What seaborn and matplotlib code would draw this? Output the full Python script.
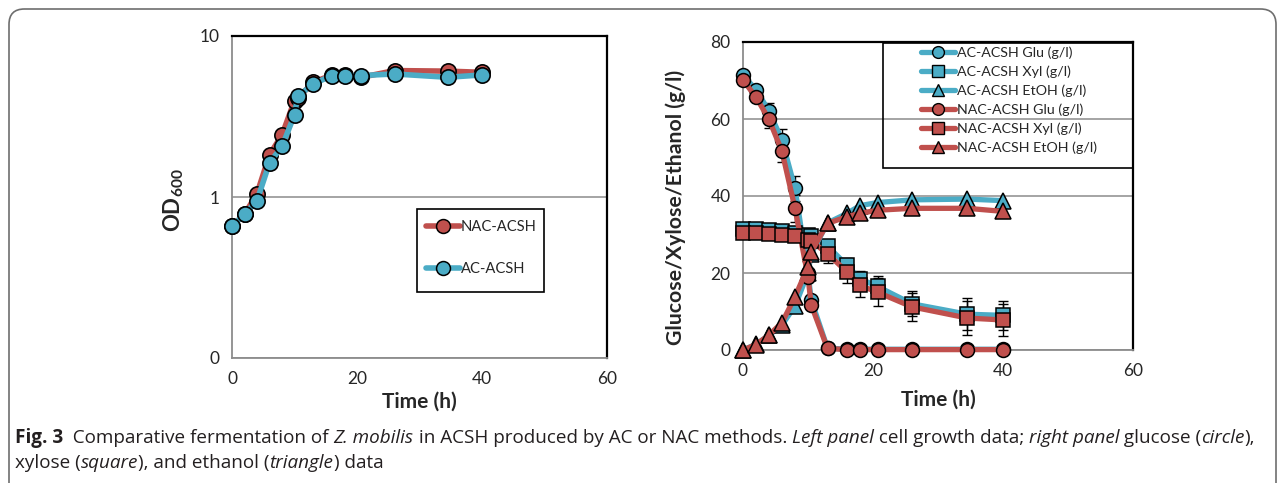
import numpy as np
import matplotlib
matplotlib.use("Agg")
import matplotlib.pyplot as plt
import seaborn as sns
from matplotlib.lines import Line2D
from matplotlib.patches import Rectangle, FancyBboxPatch
from matplotlib.ticker import MultipleLocator, FixedLocator, LogLocator, NullFormatter

# ---------------- data ----------------
times = [0, 2, 4, 6, 8, 10, 10.5, 13, 16, 18, 20.7, 26, 34.5, 40]

od_nac = [0.66, 0.78, 1.05, 1.83, 2.43, 3.97, 4.10, 5.16, 5.73, 5.73, 5.54, 6.10, 6.05, 5.95]
od_ac = [0.66, 0.78, 0.95, 1.63, 2.06, 3.24, 4.21, 5.04, 5.68, 5.68, 5.68, 5.81, 5.54, 5.73]

glu_ac = [71.4, 67.6, 62.1, 54.5, 42.0, 20.0, 13.0, 0.5, 0.2, 0.2, 0.2, 0.2, 0.2, 0.2]
xyl_ac = [31.5, 31.5, 31.2, 30.8, 30.5, 30.0, 29.5, 27.0, 22.0, 18.5, 16.5, 12.0, 9.3, 9.0]
etoh_ac = [0.0, 1.5, 3.8, 6.5, 11.4, 20.0, 25.0, 33.0, 35.5, 37.5, 38.3, 39.0, 39.2, 38.8]
glu_nac = [70.1, 65.7, 59.9, 51.6, 36.8, 19.0, 11.7, 0.4, 0.1, 0.1, 0.1, 0.1, 0.1, 0.1]
xyl_nac = [30.3, 30.3, 30.2, 29.8, 29.5, 28.5, 28.3, 25.0, 20.3, 16.8, 15.0, 11.2, 8.3, 7.8]
etoh_nac = [0.0, 1.4, 3.9, 7.1, 13.8, 21.6, 25.5, 32.9, 34.6, 35.5, 36.3, 36.8, 36.8, 36.0]

glu_ac_err = [0, 0, 2.0, 3.0, 3.2, 0, 0, 0, 0, 0, 0, 0, 0, 0]
glu_nac_err = [0, 0, 2.3, 2.7, 3.5, 0, 0, 0, 0, 0, 0, 0, 0, 0]
xyl_ac_err = [0, 0, 0, 0, 0, 0, 0, 1.2, 1.8, 2.0, 2.8, 3.2, 4.1, 3.8]
xyl_nac_err = [0, 0, 0, 0, 0, 0, 0, 2.5, 3.0, 3.1, 3.7, 3.7, 4.4, 4.2]

od_ticks = [0.1, 1, 10]
od_tick_labels = ["0", "1", "10"]
time_ticks = [0, 20, 40, 60]
conc_ticks = [0, 20, 40, 60, 80]

left_legend = ["NAC-ACSH", "AC-ACSH"]
right_legend = ["AC-ACSH Glu (g/l)", "AC-ACSH Xyl (g/l)", "AC-ACSH EtOH (g/l)",
                "NAC-ACSH Glu (g/l)", "NAC-ACSH Xyl (g/l)", "NAC-ACSH EtOH (g/l)"]

# ---------------- style ----------------
sns.set_style("white")
FONT = "Lato"
plt.rcParams["font.family"] = [FONT, "DejaVu Sans"]
plt.rcParams["mathtext.fontset"] = "custom"
plt.rcParams["mathtext.rm"] = FONT + ":bold"
plt.rcParams["mathtext.bf"] = FONT + ":bold"
plt.rcParams["mathtext.it"] = FONT + ":italic"

BLUE = "#4bacc6"
RED = "#c0504d"
GRAY = "#8c8c8c"

W, H = 1284, 483
fig = plt.figure(figsize=(W / 100, H / 100), dpi=100)


def ax_rect(x0, y0, x1, y1):
    return [x0 / W, 1 - y1 / H, (x1 - x0) / W, (y1 - y0) / H]


def style_axes(ax):
    for s in ["left", "bottom"]:
        ax.spines[s].set_color(GRAY)
        ax.spines[s].set_linewidth(1.3)
    for s in ["top", "right"]:
        ax.spines[s].set_color("black")
        ax.spines[s].set_linewidth(1.6)
    ax.tick_params(which="major", direction="out", length=6, width=1.1, color=GRAY,
                   labelsize=12.5, pad=3, top=False, right=False)
    ax.tick_params(which="minor", direction="in", length=5, width=1.1, color=GRAY,
                   top=False, right=False)


# ---------------- left panel ----------------
axL = fig.add_axes(ax_rect(232, 36, 607, 358))
axL.set_yscale("log")
axL.set_xlim(0, 60)
axL.set_ylim(0.1, 10)
axL.yaxis.set_major_locator(FixedLocator(od_ticks))
axL.set_yticklabels(od_tick_labels)
axL.yaxis.set_minor_locator(LogLocator(base=10, subs=np.arange(2, 10)))
axL.yaxis.set_minor_formatter(NullFormatter())
axL.xaxis.set_major_locator(FixedLocator(time_ticks))
axL.xaxis.set_minor_locator(MultipleLocator(4))
axL.grid(True, which="major", axis="y", color=GRAY, lw=1.1)
axL.set_axisbelow(True)
style_axes(axL)

kwL = dict(marker="o", markersize=11, markeredgecolor="black", markeredgewidth=1.2,
           lw=4, clip_on=False, errorbar=None)
sns.lineplot(x=times, y=od_nac, ax=axL, color=RED, markerfacecolor=RED, zorder=3, **kwL)
sns.lineplot(x=times, y=od_ac, ax=axL, color=BLUE, markerfacecolor=BLUE, zorder=4, **kwL)
axL.set_xlabel("Time (h)", fontsize=15, fontweight="bold", labelpad=4)
axL.set_ylabel(r"OD$_{600}$", fontsize=16, fontweight="bold")
axL.yaxis.set_label_coords((186 - 232) / 375, 1 - (200 - 36) / 322)

# left legend
fig.patches.append(Rectangle((417 / W, 1 - 292 / H), 127 / W, 83 / H, transform=fig.transFigure,
                             fill=False, edgecolor="black", lw=1.2, zorder=10))
hL = [Line2D([], [], color=c, lw=4, marker="o", markersize=10, markerfacecolor=c,
             markeredgecolor="black", markeredgewidth=1.1) for c in (RED, BLUE)]
legL = axL.legend(hL, left_legend, loc="upper left", bbox_to_anchor=(426 / W, 1 - 220 / H),
                  bbox_transform=fig.transFigure, frameon=False, borderpad=0, borderaxespad=0,
                  handlelength=2.3, handletextpad=0.05, labelspacing=1.9, fontsize=10.6)

# ---------------- right panel ----------------
axR = fig.add_axes(ax_rect(743, 42, 1133, 350))
axR.set_xlim(0, 60)
axR.set_ylim(0, 80)
axR.yaxis.set_major_locator(FixedLocator(conc_ticks))
axR.yaxis.set_minor_locator(MultipleLocator(4))
axR.xaxis.set_major_locator(FixedLocator(time_ticks))
axR.xaxis.set_minor_locator(MultipleLocator(4))
axR.grid(True, which="major", axis="y", color=GRAY, lw=1.1)
axR.set_axisbelow(True)
style_axes(axR)

t = np.array(times)
for vals, err in [(glu_ac, glu_ac_err), (glu_nac, glu_nac_err), (xyl_ac, xyl_ac_err), (xyl_nac, xyl_nac_err)]:
    v = np.array(vals)
    e = np.array(err)
    m = e > 0
    axR.errorbar(t[m], v[m], yerr=e[m], fmt="none", ecolor="black", elinewidth=1.0,
                 capsize=3.5, capthick=1.0, zorder=2)

kwR = dict(markeredgecolor="black", markeredgewidth=1.1,
           lw=3.8, clip_on=False, errorbar=None)
series = [(glu_ac, "o", BLUE), (xyl_ac, "s", BLUE), (etoh_ac, "^", BLUE),
          (glu_nac, "o", RED), (xyl_nac, "s", RED), (etoh_nac, "^", RED)]
for i, (vals, mk, col) in enumerate(series):
    ms = 11 if mk == "^" else 10
    sns.lineplot(x=times, y=vals, ax=axR, color=col, marker=mk, markerfacecolor=col,
                 markersize=ms, zorder=3 + i * 0.1, **kwR)
axR.set_xlabel("Time (h)", fontsize=15, fontweight="bold", labelpad=8)
axR.set_ylabel("Glucose/Xylose/Ethanol (g/l)", fontsize=15.3, fontweight="bold")
axR.yaxis.set_label_coords((686 - 743) / 390, 1 - (207 - 42) / 308)

# right legend
fig.patches.append(Rectangle((883 / W, 1 - 168 / H), 250 / W, 125 / H, transform=fig.transFigure,
                             fill=False, edgecolor="black", lw=1.2, zorder=10))
hR = [Line2D([], [], color=col, lw=3.8, marker=mk, markersize=8.5, markerfacecolor=col,
             markeredgecolor="black", markeredgewidth=1.0) for (_, mk, col) in series]
legR = axR.legend(hR, right_legend, loc="upper left", bbox_to_anchor=(921 / W, 1 - 46 / H),
                  bbox_transform=fig.transFigure, frameon=False, borderpad=0, borderaxespad=0,
                  handlelength=2.4, handletextpad=0.1, labelspacing=0.46, fontsize=10.3)

# ---------------- frame & caption ----------------
fig.patches.append(FancyBboxPatch((9 / W, -0.1), 1267 / W, 1 - 9 / H + 0.1,
                                  boxstyle="round,pad=0,rounding_size=0.012",
                                  transform=fig.transFigure, fill=False, edgecolor="#6e6e6e",
                                  lw=1.2, mutation_aspect=W / H))

CAP = "Open Sans"
line1 = [("Fig. 3", "bold", "normal"), ("  Comparative fermentation of ", "normal", "normal"),
         ("Z. mobilis", "normal", "italic"), (" in ACSH produced by AC or NAC methods. ", "normal", "normal"),
         ("Left panel", "normal", "italic"), (" cell growth data; ", "normal", "normal"),
         ("right panel", "normal", "italic"), (" glucose (", "normal", "normal"),
         ("circle", "normal", "italic"), ("),", "normal", "normal")]
line2 = [("xylose (", "normal", "normal"), ("square", "normal", "italic"),
         ("), and ethanol (", "normal", "normal"), ("triangle", "normal", "italic"),
         (") data", "normal", "normal")]

fig.canvas.draw()
renderer = fig.canvas.get_renderer()


def draw_runs(runs, x0, ybase, size):
    x = x0
    for txt, wt, st in runs:
        tt = fig.text(x / W, 1 - ybase / H, txt, fontsize=size, fontweight=wt, fontstyle=st,
                      family=[CAP, "DejaVu Sans"], va="baseline", ha="left", color="#231f20")
        bb = tt.get_window_extent(renderer=renderer)
        x += bb.width


draw_runs(line1, 15, 443, 13.6)
draw_runs(line2, 15, 468, 13.6)

fig.savefig("out.png", dpi=100)
